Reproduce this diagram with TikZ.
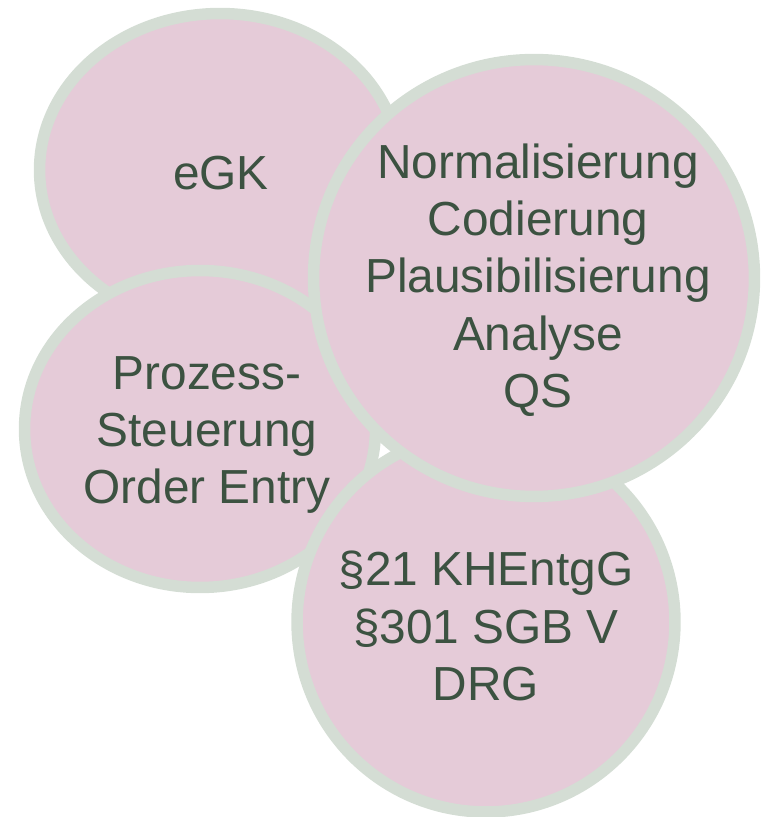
\documentclass[tikz,border=0pt]{standalone}
\usepackage{fontspec}
\setmainfont{Liberation Sans}
\usepackage{tikz}
\usetikzlibrary{shapes}
\usepackage{xcolor}
\definecolor{blobfill}{HTML}{E5CBD8}
\definecolor{blobline}{HTML}{D4DDD4}
\definecolor{inktext}{HTML}{3C5241}

\begin{document}
\begin{tikzpicture}[x=0.02cm,y=-0.02cm,
  blob/.style={ellipse,draw=blobline,fill=blobfill,line width=0.23cm,inner sep=0pt},
  blobtext/.style={align=center,inner sep=0pt,text=inktext,font=\fontsize{27.2}{32.6}\selectfont}]
\useasboundingbox (0,0) rectangle (760,817);
%%%%%%%%%%%%%%%%
\node[blob,minimum width=7.22cm,minimum height=6.26cm] (egk) at (220,170) {};
\node[blob,minimum width=7.02cm,minimum height=6.34cm] (prozess) at (200,429) {};
\node[blob,minimum width=7.56cm,minimum height=7.6cm] (khg) at (486,622) {};
\node[blob,minimum width=8.82cm,minimum height=8.74cm] (norm) at (534,278) {};
%%%%%%%%%%%%%%%%
\node[blobtext] (egktext) at (221,173) {eGK};
\node[blobtext] (normtext) at (538,280) {Normalisierung\\ Codierung\\ Plausibilisierung\\ Analyse\\ QS};
\node[blobtext] (prozesstext) at (207,435) {Prozess-\\ Steuerung\\ Order Entry};
\node[blobtext] (khgtext) at (486,626) {\S21 KHEntgG\\ \S301 SGB V\\ DRG};
\end{tikzpicture}
\end{document}
